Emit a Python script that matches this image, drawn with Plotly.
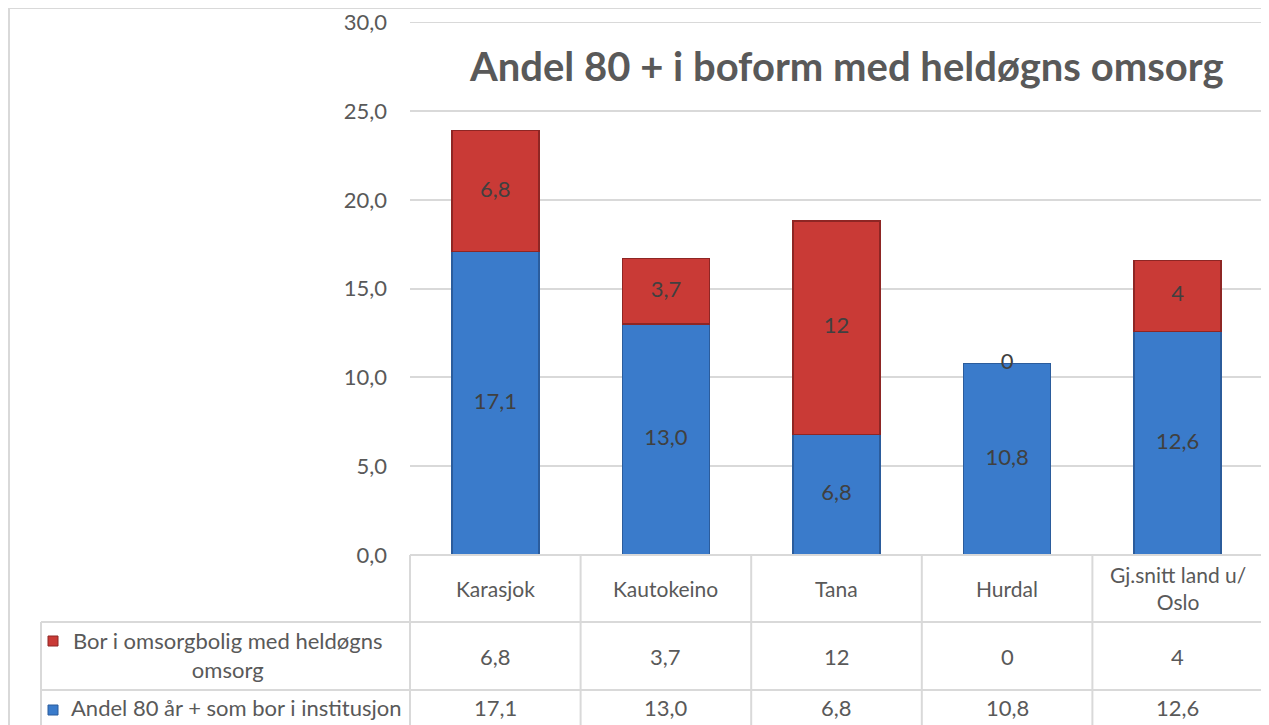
import plotly.graph_objects as go

categories = ["Karasjok", "Kautokeino", "Tana", "Hurdal", "Gj.snitt land u/<br>Oslo"]
institusjon = [17.1, 13.0, 6.8, 10.8, 12.6]
omsorgbolig = [6.8, 3.7, 12, 0, 4]
institusjon_txt = ["17,1", "13,0", "6,8", "10,8", "12,6"]
omsorgbolig_txt = ["6,8", "3,7", "12", "0", "4"]
series_names = ["Bor i omsorgbolig med heldøgns<br>omsorg", "Andel 80 år + som bor i institusjon"]
title = "Andel 80 + i boform med heldøgns omsorg"
y_ticks = [0, 5, 10, 15, 20, 25, 30]

OFF = 8  # page body margin
W, H = 1269, 725
# page coordinates of the plot area
L, R, T, B = 410, 1263, 22, 555
FONT = "Lato"
GRID = "#D9D9D9"
TXT = "#595959"
BLUE = "#3A7BCB"
RED = "#C93A36"


def px(xp):
    return (xp - L) / (R - L)


def py(yp):
    return (B - yp) / (B - T)


fig = go.Figure()
fig.add_trace(go.Bar(x=categories, y=institusjon, name=series_names[1],
                     marker=dict(color=BLUE, line=dict(color="#2B5C9C",
                                                       width=[1.5 if v > 0 else 0 for v in institusjon]))))
fig.add_trace(go.Bar(x=categories, y=omsorgbolig, name=series_names[0],
                     marker=dict(color=RED, line=dict(color="#8E2624",
                                                      width=[1.5 if v > 0 else 0 for v in omsorgbolig]))))

# bar value labels at segment midpoints
fig.add_trace(go.Scatter(x=categories, y=[v / 2 for v in institusjon], mode="text",
                         text=institusjon_txt, textfont=dict(family=FONT, size=22, color="#404040"),
                         showlegend=False, hoverinfo="skip"))
fig.add_trace(go.Scatter(x=categories, y=[a + b / 2 for a, b in zip(institusjon, omsorgbolig)],
                         mode="text", text=omsorgbolig_txt,
                         textfont=dict(family=FONT, size=22, color="#404040"),
                         showlegend=False, hoverinfo="skip"))

shapes = []
line = dict(color=GRID, width=2)
# top gridline (plotly drops the one at the range edge)
shapes.append(dict(type="line", xref="paper", yref="y", x0=0, x1=1, y0=y_ticks[-1], y1=y_ticks[-1],
                   line=dict(color=GRID, width=1.5), layer="below"))
# outer border
shapes.append(dict(type="rect", xref="paper", yref="paper", x0=px(9), x1=px(R), y0=py(760), y1=py(8),
                   line=line, layer="below"))
# table horizontal lines
shapes.append(dict(type="line", xref="paper", yref="paper", x0=0, x1=1, y0=py(B), y1=py(B), line=line))
for yy in (622, 690):
    shapes.append(dict(type="line", xref="paper", yref="paper", x0=px(41), x1=1, y0=py(yy), y1=py(yy), line=line))
# table vertical lines
n = len(categories)
for i in range(n + 1):
    shapes.append(dict(type="line", xref="paper", yref="paper", x0=i / n, x1=i / n, y0=py(B), y1=py(760), line=line))
shapes.append(dict(type="line", xref="paper", yref="paper", x0=px(41), x1=px(41), y0=py(622), y1=py(760), line=line))
# legend keys
shapes.append(dict(type="rect", xref="paper", yref="paper", x0=px(48), x1=px(58), y0=py(646), y1=py(636),
                   fillcolor=RED, line=dict(color="#8E2624", width=1)))
shapes.append(dict(type="rect", xref="paper", yref="paper", x0=px(48), x1=px(58), y0=py(715), y1=py(705),
                   fillcolor=BLUE, line=dict(color="#2B5C9C", width=1)))

ann = []
ann.append(dict(text="<b>" + title + "</b>", xref="paper", yref="paper", x=px(846), y=py(66),
                showarrow=False, font=dict(family=FONT, size=40, color=TXT), xanchor="center", yanchor="middle"))
for i, c in enumerate(categories):
    ann.append(dict(text=c, x=c, xref="x", yref="paper", y=py(588), showarrow=False,
                    font=dict(family=FONT, size=21, color=TXT), xanchor="center", yanchor="middle"))
    ann.append(dict(text=omsorgbolig_txt[i], x=c, xref="x", yref="paper", y=py(656), showarrow=False,
                    font=dict(family=FONT, size=22, color=TXT), xanchor="center", yanchor="middle"))
    ann.append(dict(text=institusjon_txt[i], x=c, xref="x", yref="paper", y=py(708), showarrow=False,
                    font=dict(family=FONT, size=22, color=TXT), xanchor="center", yanchor="middle"))
ann.append(dict(text=series_names[0], xref="paper", yref="paper", x=px(227), y=py(655), showarrow=False,
                font=dict(family=FONT, size=22, color=TXT), xanchor="center", yanchor="middle"))
ann.append(dict(text=series_names[1], xref="paper", yref="paper", x=px(236), y=py(708), showarrow=False,
                font=dict(family=FONT, size=22, color=TXT), xanchor="center", yanchor="middle"))

fig.update_layout(
    width=W, height=H,
    margin=dict(l=L - OFF, r=W - R + OFF, t=T - OFF, b=H - B + OFF, pad=0, autoexpand=False),
    barmode="stack", bargap=0.49,
    plot_bgcolor="white", paper_bgcolor="white",
    showlegend=False,
    separators=", ",
    shapes=shapes, annotations=ann,
    xaxis=dict(showticklabels=False, showgrid=False, zeroline=False, showline=False, fixedrange=True,
               automargin=False),
    yaxis=dict(range=[0, 30.02], tickmode="array", tickvals=y_ticks, tickformat=".1f",
               showgrid=True, gridcolor=GRID, gridwidth=1.5, automargin=False,
               zeroline=False, showline=False, ticks="", ticklabelstandoff=22,
               tickfont=dict(family=FONT, size=22, color=TXT)),
)

fig.write_html("out.html")
